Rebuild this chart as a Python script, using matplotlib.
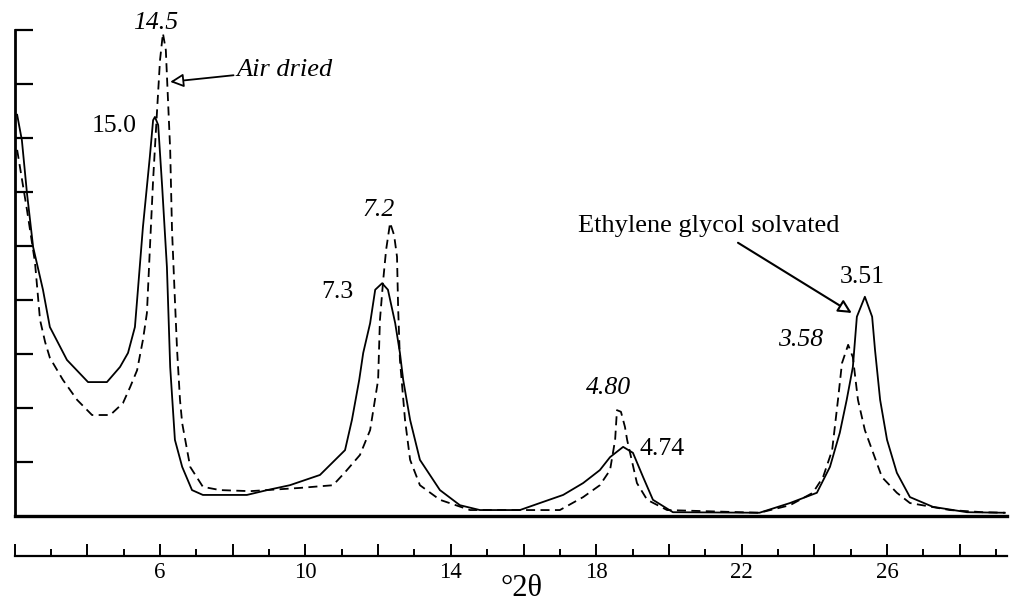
import matplotlib
matplotlib.use("Agg")
import matplotlib.pyplot as plt
from matplotlib.ticker import MultipleLocator, FuncFormatter

plt.rcParams['font.family'] = ['Liberation Serif', 'DejaVu Serif']

# ethylene glycol solvated (solid)
eg_2theta = [2.07, 2.20, 2.34, 2.51, 2.78, 2.97, 3.44, 4.02, 4.54, 4.90, 5.12, 5.31, 5.37, 5.53,
             5.72, 5.81, 5.86, 5.95, 6.06, 6.19, 6.28, 6.41, 6.61, 6.88, 7.18, 8.39, 8.95, 9.57,
             10.40, 11.09, 11.28, 11.48, 11.59, 11.78, 11.92, 12.11, 12.27, 12.47, 12.60, 12.69,
             12.88, 13.15, 13.70, 14.25, 14.80, 15.90, 16.45, 17.09, 17.64, 18.10, 18.38, 18.74,
             19.01, 19.29, 19.56, 20.11, 22.49, 23.33, 24.07, 24.43, 24.70, 24.89, 25.06, 25.17,
             25.39, 25.59, 25.67, 25.81, 26.00, 26.27, 26.63, 27.26, 28.20, 29.24]
eg_int = [7.43, 6.96, 5.98, 4.98, 4.19, 3.50, 2.89, 2.48, 2.48, 2.76, 3.02, 3.50, 4.00, 5.35,
          6.65, 7.33, 7.39, 7.24, 6.09, 4.61, 2.76, 1.41, 0.91, 0.48, 0.39, 0.39, 0.48, 0.57,
          0.76, 1.22, 1.78, 2.52, 3.02, 3.57, 4.19, 4.31, 4.19, 3.57, 3.02, 2.52,
          1.78, 1.04, 0.48, 0.20, 0.11, 0.11, 0.24, 0.39, 0.61, 0.85, 1.09, 1.28,
          1.17, 0.72, 0.30, 0.07, 0.06, 0.24, 0.43, 0.91, 1.54, 2.15, 2.76, 3.69,
          4.06, 3.69, 3.07, 2.15, 1.41, 0.80, 0.35, 0.17, 0.07, 0.06]

# air dried (dashed)
ad_2theta = [2.07, 2.34, 2.56, 2.70, 2.84, 2.97, 3.33, 3.72, 4.13, 4.63, 4.98, 5.18, 5.37, 5.53,
             5.64, 5.72, 5.81, 5.92, 6.00, 6.08, 6.16, 6.22, 6.28, 6.33, 6.41, 6.47, 6.55, 6.61,
             6.83, 7.18, 7.65, 8.48, 9.85, 10.76, 11.09, 11.50, 11.78, 12.00, 12.05, 12.14, 12.22,
             12.33, 12.44, 12.52, 12.55, 12.60, 12.74, 12.88, 13.15, 13.70, 14.53, 17.00, 17.64,
             18.10, 18.38, 18.52, 18.57, 18.68, 18.79, 18.85, 19.12, 19.40, 19.95, 22.49, 23.33,
             23.96, 24.24, 24.49, 24.65, 24.76, 24.93, 25.06, 25.20, 25.39, 25.59, 25.86, 26.27,
             26.63, 27.73, 28.64, 29.24]
ad_int = [6.78, 5.67, 4.70, 3.63, 3.22, 2.93, 2.52, 2.15, 1.87, 1.87, 2.09, 2.39, 2.70, 3.26,
          3.76, 4.93, 6.22, 7.52, 8.44, 8.94, 8.63, 7.70, 6.78, 5.30, 4.00, 3.07, 2.15, 1.72,
          0.91, 0.54, 0.48, 0.46, 0.52, 0.57, 0.81, 1.13, 1.59, 2.52, 3.63, 4.37, 4.93,
          5.43, 5.20, 4.80, 3.87, 2.89, 1.78, 1.04, 0.57, 0.30, 0.11, 0.11, 0.35,
          0.57, 0.85, 1.41, 1.96, 1.93, 1.65, 1.41, 0.61, 0.30, 0.11, 0.06, 0.20,
          0.43, 0.72, 1.22, 2.15, 2.83, 3.17, 2.94, 2.15, 1.59, 1.22, 0.72, 0.43,
          0.24, 0.11, 0.07, 0.06]

# peak labels: (text, 2theta, intensity, italic)
peak_labels = [("14.5", 5.87, 9.13, True), ("15.0", 4.74, 7.22, False),
               ("7.2", 12.00, 5.67, True), ("7.3", 10.87, 4.15, False),
               ("4.80", 18.35, 2.37, True), ("4.74", 19.81, 1.24, False),
               ("3.51", 25.31, 4.43, False), ("3.58", 23.61, 3.26, True)]

W, H = 1013, 605
fig = plt.figure(figsize=(W / 100, H / 100), dpi=100)
ax = fig.add_axes([14.6 / W, (H - 516) / H, 992.4 / W, 486 / H])
ax.set_xlim(2, 29.3)
ax.set_ylim(0, 9)

ax.plot(eg_2theta, eg_int, color='k', lw=1.3)
ax.plot(ad_2theta, ad_int, color='k', lw=1.3, ls=(0, (5, 3)))

# thick baseline
ax.axhline(0, color='k', lw=2.4, clip_on=False)

for s in ['top', 'right']:
    ax.spines[s].set_visible(False)
ax.spines['left'].set_linewidth(2.0)
ax.spines['bottom'].set_position(('outward', 29))
ax.spines['bottom'].set_linewidth(1.6)

ax.set_yticks([1, 2, 3, 4, 5, 6, 7, 8, 9])
ax.tick_params(axis='y', direction='in', length=13, width=1.6, labelleft=False)

ax.xaxis.set_major_locator(MultipleLocator(2))
ax.xaxis.set_minor_locator(MultipleLocator(1))
ax.xaxis.set_major_formatter(FuncFormatter(lambda v, p: "%d" % v if int(round(v)) % 4 == 2 and v > 3 else ""))
ax.tick_params(axis='x', which='major', direction='in', length=9, width=1.4, pad=4, labelsize=16.5)
ax.tick_params(axis='x', which='minor', direction='in', length=5, width=1.4)

ax.set_xlabel("°2θ", fontsize=22, labelpad=0)
ax.xaxis.set_label_coords(0.511, -0.12)

for txt, x, y, it in peak_labels:
    ax.text(x, y, txt, ha='center', va='center', fontsize=18.5,
            fontstyle='italic' if it else 'normal')

ax.annotate("Air dried", xy=(6.28, 8.04), xytext=(8.10, 8.26), fontsize=19, fontstyle='italic',
            ha='left', va='center',
            arrowprops=dict(arrowstyle='-|>', fc='white', ec='k', lw=1.3, mutation_scale=20,
                            shrinkA=0, shrinkB=0))
ax.text(21.10, 5.37, "Ethylene glycol solvated", ha='center', va='center', fontsize=19)
ax.annotate("", xy=(25.03, 3.76), xytext=(21.90, 5.06),
            arrowprops=dict(arrowstyle='-|>', fc='white', ec='k', lw=1.5, mutation_scale=20,
                            shrinkA=0, shrinkB=0))

fig.savefig("out.png", dpi=100)
